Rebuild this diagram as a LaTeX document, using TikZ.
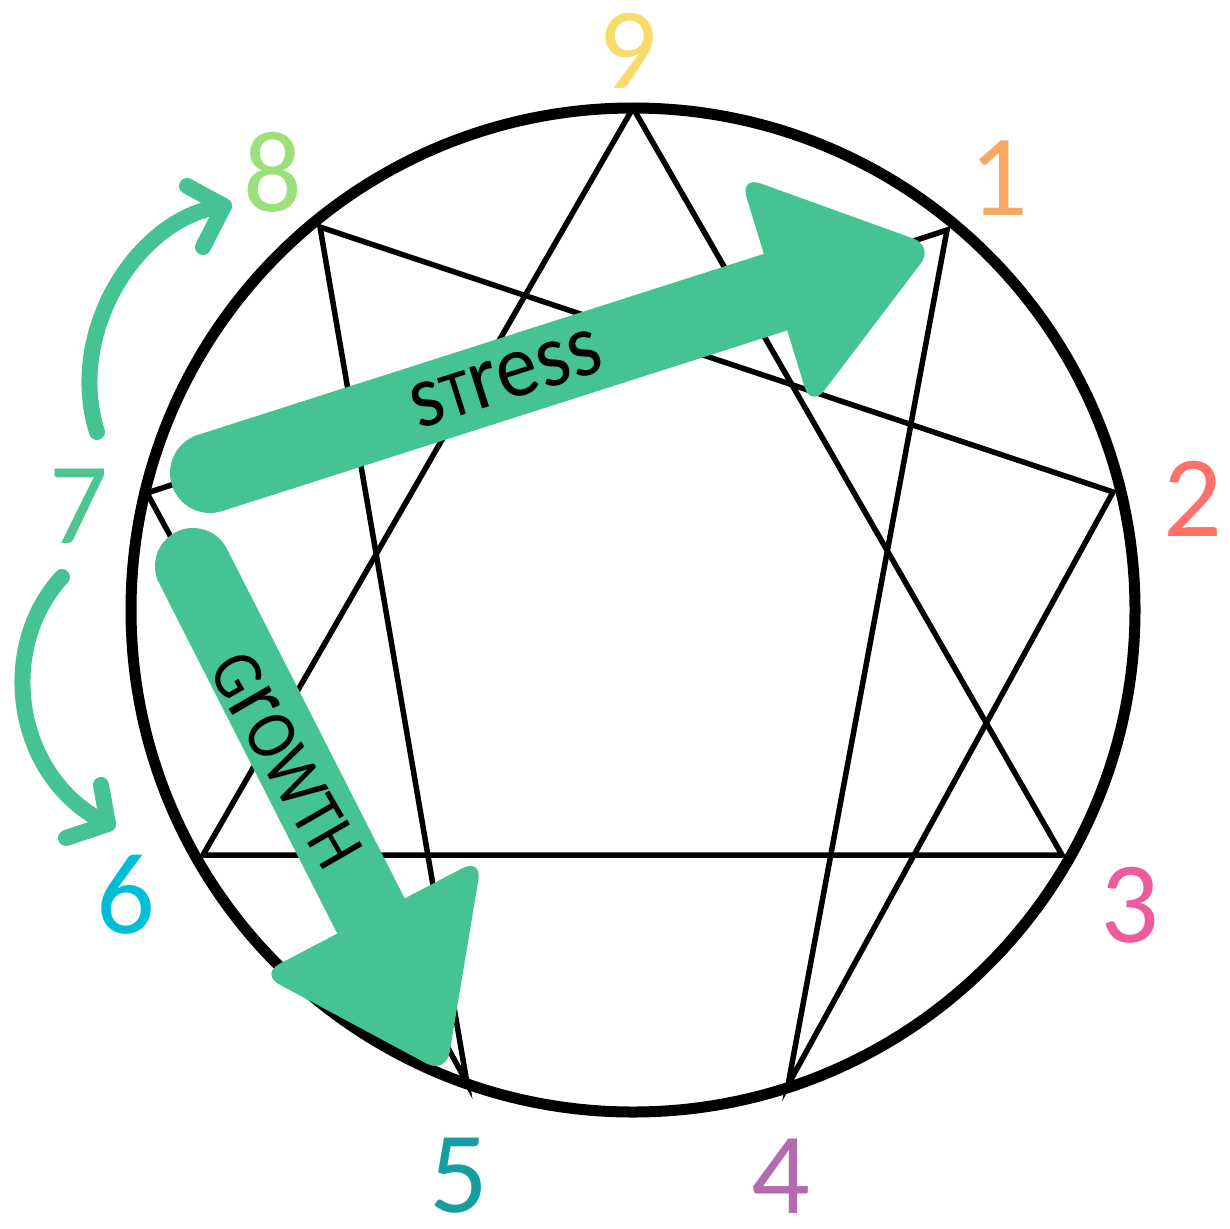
\documentclass[tikz,border=0pt]{standalone}
\usepackage{fontspec}
\setmainfont{Carlito}
\definecolor{agreen}{HTML}{45C393}
\definecolor{c9}{HTML}{F8DB6A}
\definecolor{c1}{HTML}{F5A964}
\definecolor{c2}{HTML}{FF7168}
\definecolor{c3}{HTML}{EE5B9B}
\definecolor{c4}{HTML}{B26BAE}
\definecolor{c5}{HTML}{139F9F}
\definecolor{c6}{HTML}{00BDD8}
\definecolor{c7}{HTML}{4BC690}
\definecolor{c8}{HTML}{9BE07B}
\begin{document}
\begin{tikzpicture}[x=1pt,y=-1pt,
  enn/.style={line width=5.5pt, line join=miter},
  ring/.style={line width=11pt},
  lab/.style={inner sep=0pt, anchor=center, font=\fontsize{116}{116}\selectfont},
  shaft/.style={draw=agreen, line width=80pt, line cap=round},
  gshaft/.style={draw=agreen, line width=76pt, line cap=round},
  head/.style={fill=agreen, rounded corners=22pt},
  curvearrow/.style={draw=agreen, line width=16pt, line cap=round, line join=round},
  word/.style={inner sep=0pt, anchor=center}
  ]
\useasboundingbox (0,0) rectangle (1230,1228);
% enneagram points
\coordinate (c) at (633,610);
\coordinate (p9) at (633,108);
\coordinate (p1) at (947,230);
\coordinate (p2) at (1113,492);
\coordinate (p3) at (1062,855);
\coordinate (p4) at (788,1085);
\coordinate (p5) at (467,1083);
\coordinate (p6) at (203,855);
\coordinate (p7) at (147,493);
\coordinate (p8) at (320,227);
% circle
\draw[ring] (c) circle[radius=502];
% triangle and hexad
\draw[enn] (p9) -- (p3) -- (p6) -- cycle;
\draw[enn] (p1) -- (p4) -- (p2) -- (p8) -- (p5) -- (p7) -- cycle;
% labels
\node[lab, text=c9] (l9) at (628,51) {9};
\node[lab, text=c1] (l1) at (999,178) {1};
\node[lab, text=c2] (l2) at (1193,499) {2};
\node[lab, text=c3] (l3) at (1130,905) {3};
\node[lab, text=c4] (l4) at (781,1176) {4};
\node[lab, text=c5] (l5) at (459,1176) {5};
\node[lab, text=c6] (l6) at (126,895) {6};
\node[lab, text=c7] (l7) at (79,506) {7};
\node[lab, text=c8] (l8) at (273,172) {8};
% big stress arrow
\coordinate (s0) at (210,473);
\coordinate (s1) at (776,292);
\coordinate (sh1) at (740,176);
\coordinate (sh2) at (934,246);
\coordinate (sh3) at (811,408);
\draw[shaft] (s0) -- (s1);
\fill[head] (sh1) -- (sh2) -- (sh3) -- cycle;
% big growth arrow
\coordinate (g0) at (193,566);
\coordinate (g1) at (371,916);
\coordinate (gh1) at (482,858);
\coordinate (gh2) at (446,1074);
\coordinate (gh3) at (260,974);
\draw[gshaft] (g0) -- (g1);
\fill[head] (gh1) -- (gh2) -- (gh3) -- cycle;
% words
\node[word, rotate=17.5] (tstress) at (506,379)
  {\scalebox{0.93}[1]{\fontsize{90}{90}\selectfont s{\fontsize{66}{66}\selectfont T}ress}};
\node[word, rotate=-60] (tgrowth) at (286,760)
  {\scalebox{0.87}[1]{\fontsize{72}{72}\selectfont G{\fontsize{97}{97}\selectfont r}OWTH}};
% small curved arrows
\coordinate (u0) at (97,432);
\coordinate (u1) at (224,206);
\coordinate (ua) at (187,186);
\coordinate (ub) at (203,247);
\draw[curvearrow] (u0) .. controls (65,330) and (140,215) .. (u1);
\draw[curvearrow] (ua) -- (u1) -- (ub);
\coordinate (d0) at (62,577);
\coordinate (d1) at (108,824);
\coordinate (da) at (101,785);
\coordinate (db) at (66,838);
\draw[curvearrow] (d0) .. controls (-5,650) and (15,780) .. (d1);
\draw[curvearrow] (da) -- (d1) -- (db);
\end{tikzpicture}
\end{document}
